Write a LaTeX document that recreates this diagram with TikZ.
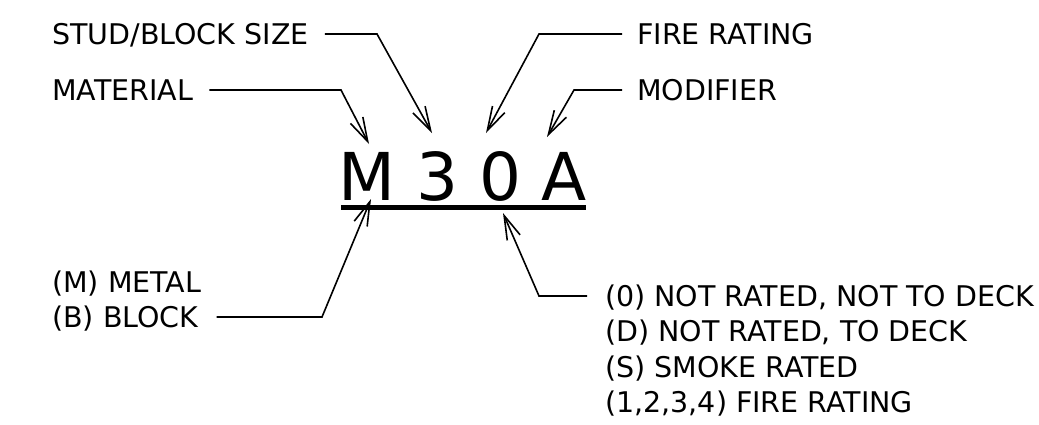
\documentclass[tikz,border=0pt]{standalone}
\usepackage{fontspec}
\setmainfont{DejaVu Sans}
\usetikzlibrary{arrows.meta}

\tikzset{
    lbl/.style={anchor=west, inner sep=0pt, text height=20.8pt, text depth=0pt, font=\fontsize{28.5}{35}\selectfont, text={rgb,255:red,0;green,0;blue,0}},
    letter/.style={anchor=base, inner sep=0pt, font=\fontsize{66}{70}\selectfont},
    pointer/.style={draw={rgb,255:red,0;green,0;blue,0}, line width=1.6pt, -{Straight Barb[length=24pt, width=14pt, line width=1.6pt]}}
}

\begin{document}
\begin{tikzpicture}[x=1pt, y=-1pt]
    \useasboundingbox (0,0) rectangle (1039,424);

    % code letters
    \node[letter] (ndLetM) at (367,200) {M};
    \node[letter] (ndLet3) at (437.5,200) {3};
    \node[letter] (ndLet0) at (500,200) {0};
    \node[letter] (ndLetA) at (564,200) {A};
    \draw[line width=5pt] (341,207) -- (586,207);

    % labels
    \node[lbl] (ndStud) at (52,34) {STUD/BLOCK SIZE};
    \node[lbl] (ndMaterial) at (52,90) {MATERIAL};
    \node[lbl] (ndFire) at (637,34) {FIRE RATING};
    \node[lbl] (ndModifier) at (637,90) {MODIFIER};
    \node[lbl] (ndMetal) at (52,282) {(M) METAL};
    \node[lbl] (ndBlock) at (52,317) {(B) BLOCK};
    \node[lbl] (ndNotRated) at (605,296) {(0) NOT RATED, NOT TO DECK};
    \node[lbl] (ndToDeck) at (605,331) {(D) NOT RATED, TO DECK};
    \node[lbl] (ndSmoke) at (605,367) {(S) SMOKE RATED};
    \node[lbl] (ndFireRate) at (605,402) {(1,2,3,4) FIRE RATING};

    % bends and tips
    \coordinate (bnStud) at (377,34);
    \coordinate (tpStud) at (432,133);
    \coordinate (bnMaterial) at (341,90);
    \coordinate (tpMaterial) at (369,144);
    \coordinate (bnFire) at (539,34);
    \coordinate (tpFire) at (486,133);
    \coordinate (bnModifier) at (574,90);
    \coordinate (tpModifier) at (547,137);
    \coordinate (bnBlock) at (322,317);
    \coordinate (tpBlock) at (371,199);
    \coordinate (bnNotRated) at (539,296);
    \coordinate (tpNotRated) at (503,213);

    \draw[pointer] ([xshift=16pt]ndStud.east) -- (bnStud) -- (tpStud);
    \draw[pointer] ([xshift=16pt]ndMaterial.east) -- (bnMaterial) -- (tpMaterial);
    \draw[pointer] ([xshift=-15pt]ndFire.west) -- (bnFire) -- (tpFire);
    \draw[pointer] ([xshift=-15pt]ndModifier.west) -- (bnModifier) -- (tpModifier);
    \draw[pointer] ([xshift=18pt]ndBlock.east) -- (bnBlock) -- (tpBlock);
    \draw[pointer] ([xshift=-18pt]ndNotRated.west) -- (bnNotRated) -- (tpNotRated);
\end{tikzpicture}
\end{document}
